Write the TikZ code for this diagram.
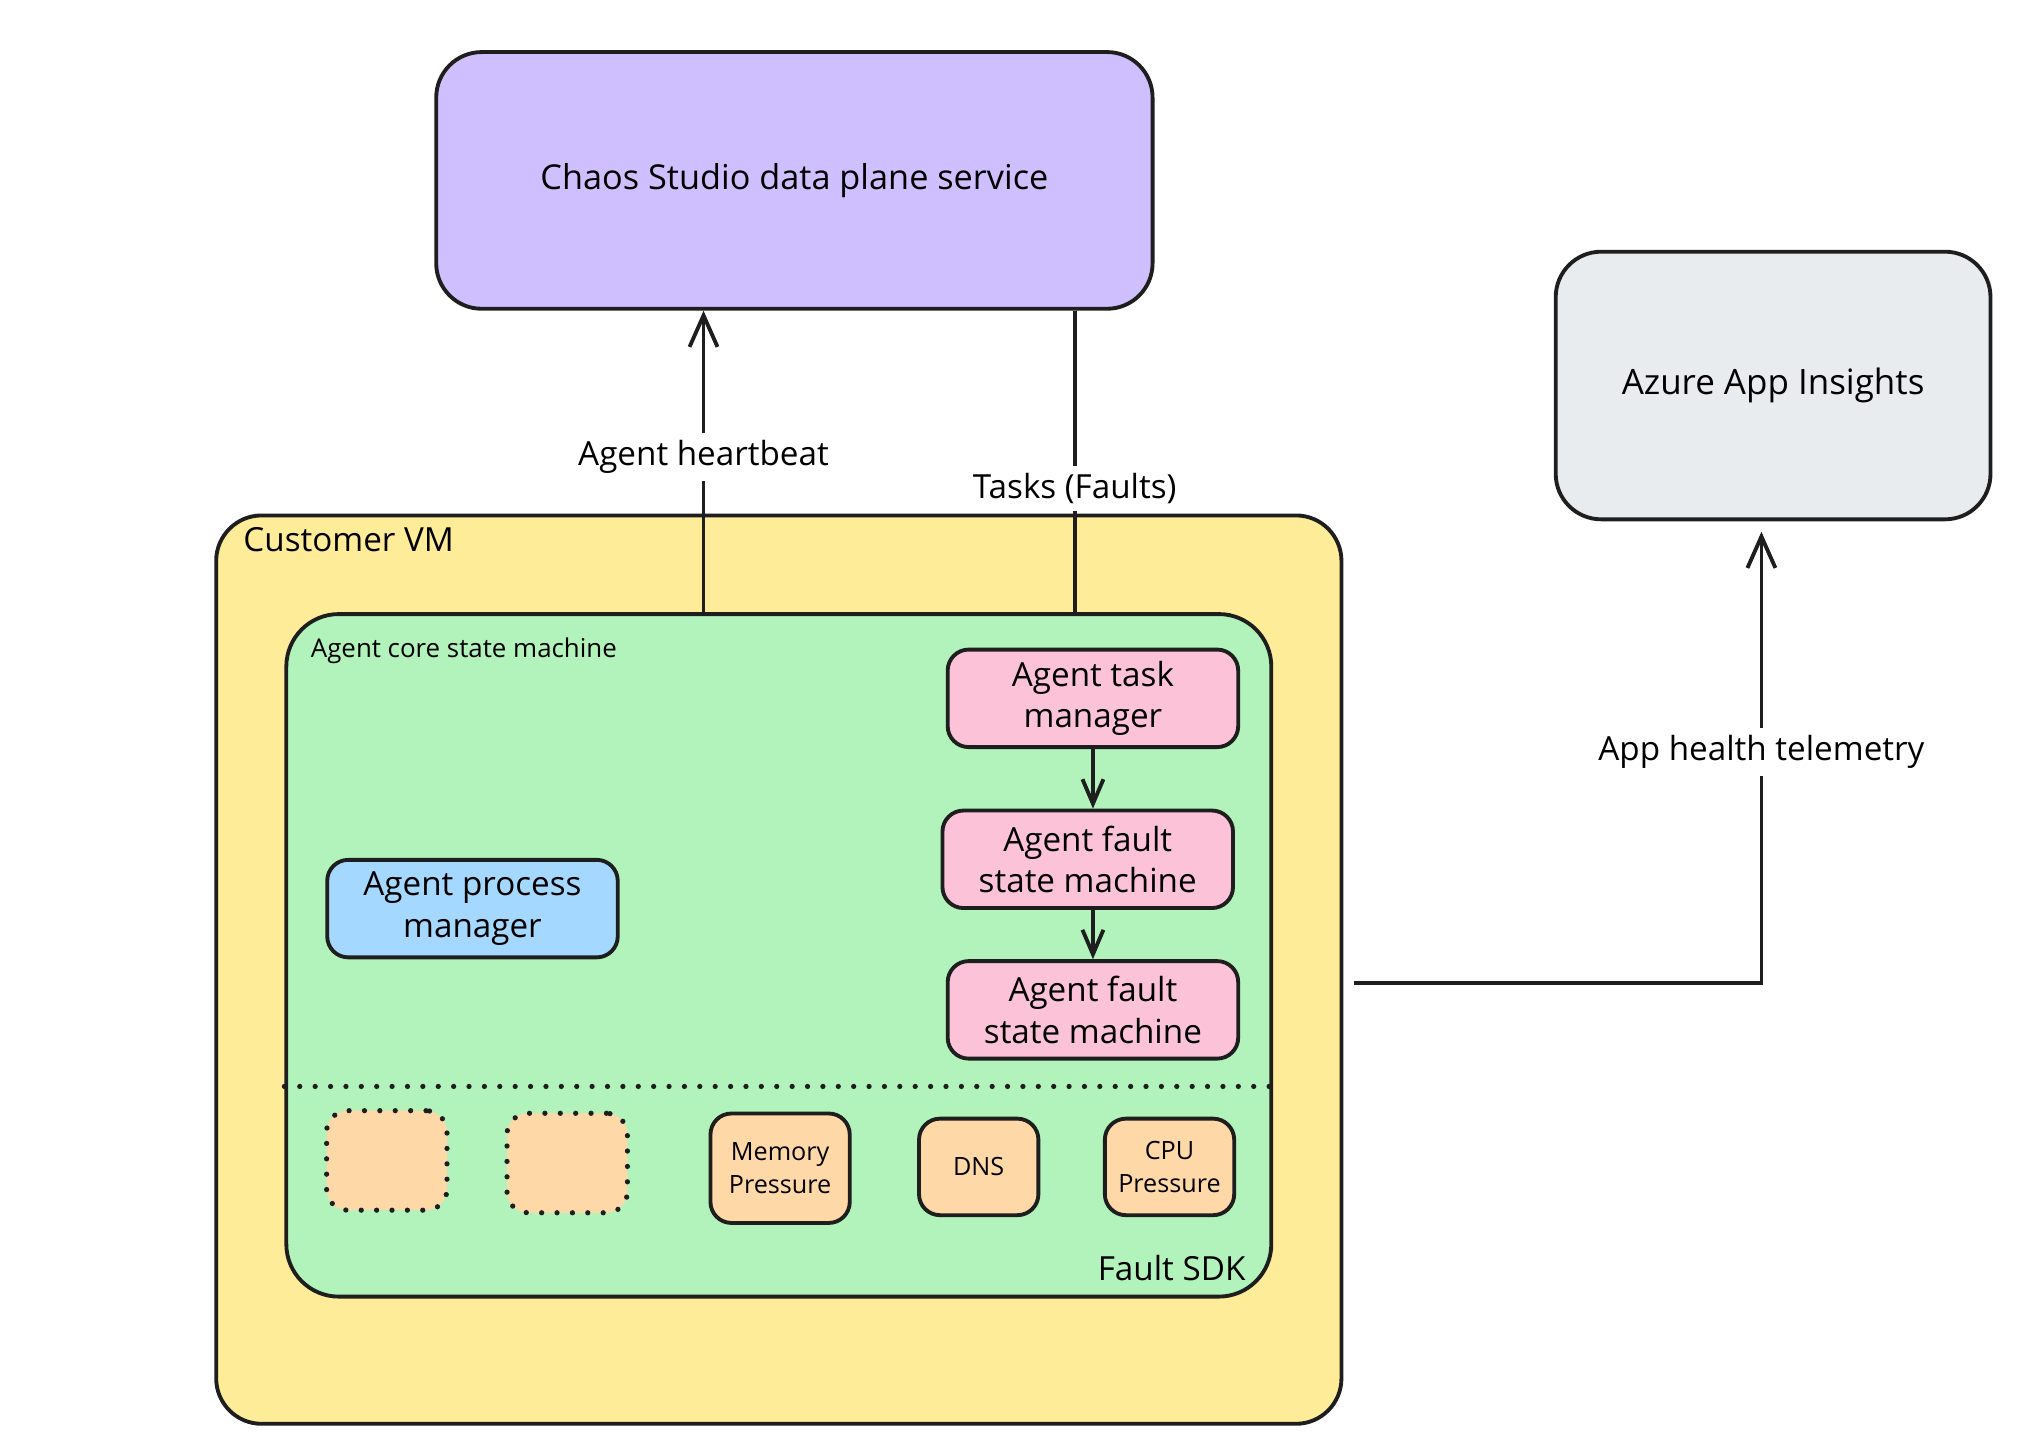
\documentclass[tikz,border=0pt]{standalone}
\usepackage{fontspec}
\setmainfont{Open Sans}
\usetikzlibrary{arrows.meta, positioning}

\definecolor{ink}{HTML}{1E1E1E}
\definecolor{violetfill}{HTML}{D0BFFF}
\definecolor{greyfill}{HTML}{E9ECEF}
\definecolor{yellowfill}{HTML}{FFEC99}
\definecolor{greenfill}{HTML}{B2F2BB}
\definecolor{pinkfill}{HTML}{FCC2D7}
\definecolor{bluefill}{HTML}{A5D8FF}
\definecolor{orangefill}{HTML}{FFD8A8}

\tikzset{
  box/.style={draw=ink, line width=1.1pt, rounded corners=6pt, align=center, inner sep=0pt},
  bigbox/.style={box, rounded corners=13pt},
  statebox/.style={box, fill=pinkfill, minimum width=2.92cm, minimum height=0.98cm, font=\fontsize{9.5}{11.9}\selectfont},
  faultbox/.style={box, fill=orangefill, minimum height=0.97cm, font=\fontsize{7.2}{9.3}\selectfont},
  emptybox/.style={faultbox, line width=1.5pt, dash pattern=on 0pt off 4.4pt, line cap=round, minimum width=1.21cm, minimum height=1cm},
  flow/.style={draw=ink, line width=1.1pt, -{Straight Barb[length=9pt,width=8pt]}},
  edgelabel/.style={fill=white, inner sep=2pt, font=\fontsize{9.5}{11}\selectfont},
  boxlabel/.style={inner sep=0pt, font=\fontsize{9.5}{11}\selectfont},
}

\begin{document}
\begin{tikzpicture}[x=0.01304cm, y=-0.01304cm]
        \useasboundingbox (0,0) rectangle (1567,1115);

        % outside services
        \node[bigbox, fill=violetfill, minimum width=7.20cm, minimum height=2.58cm, font=\fontsize{9.8}{11}\selectfont] at (612, 139) (chaos) {Chaos Studio data plane service};
        \node[bigbox, fill=greyfill, minimum width=4.37cm, minimum height=2.69cm, font=\fontsize{10}{11}\selectfont] at (1366, 297) (azure) {Azure App Insights};

        % customer vm and agent
        \node[bigbox, fill=yellowfill, minimum width=11.31cm, minimum height=9.13cm] at (600, 747) (vm) {};
        \node[boxlabel, anchor=west] at (187, 416) (vmlabel) {Customer VM};
        \node[bigbox, rounded corners=15pt, fill=greenfill, minimum width=9.90cm, minimum height=6.86cm] at (600, 736) (core) {};
        \node[boxlabel, anchor=west, font=\fontsize{7.4}{9}\selectfont] at (239, 501) (corelabel) {Agent core state machine};
        \node[boxlabel, anchor=east] at (960, 977) (sdklabel) {Fault SDK};

        \node[statebox] at (842, 538) (task) {Agent task\\manager};
        \node[statebox] at (838, 662) (faultA) {Agent fault\\state machine};
        \node[statebox] at (842, 778) (faultB) {Agent fault\\state machine};
        \node[statebox, fill=bluefill] at (364, 700) (process) {Agent process\\manager};

        % fault sdk
        \coordinate (sdktop) at (0, 837);
        \draw[draw=ink, line width=1.5pt, dash pattern=on 0pt off 4.4pt, line cap=round] (core.west |- sdktop) -- (core.east |- sdktop);
        \node[emptybox] at (298, 894) (slotA) {};
        \node[emptybox] at (437, 896) (slotB) {};
        \node[faultbox, minimum width=1.40cm, minimum height=1.10cm] at (601, 900) (memory) {Memory\\Pressure};
        \node[faultbox, minimum width=1.20cm] at (754, 899) (dns) {DNS};
        \node[faultbox, minimum width=1.30cm] at (901, 899) (cpu) {CPU\\Pressure};

        % connectors
        \coordinate (beat) at (542, 0);
        \coordinate (tasks) at (828, 0);
        \coordinate (telem) at (1043, 757);
        \coordinate (health) at (1357, 0);
        \draw[flow] (core.north -| beat) -- node[edgelabel, pos=0.515] {Agent heartbeat} (chaos.south -| beat);
        \draw[draw=ink, line width=1.1pt] (chaos.south -| tasks) -- node[edgelabel, pos=0.59] {Tasks (Faults)} (core.north -| tasks);
        \draw[flow, -{Straight Barb[length=7pt,width=6pt]}] (task.south) -- (task.south |- faultA.north);
        \draw[flow, -{Straight Barb[length=7pt,width=6pt]}] (faultB.north |- faultA.south) -- (faultB.north);
        \draw[flow, shorten >=3pt] (telem) -| node[edgelabel, pos=0.75] {App health telemetry} (azure.south -| health);
\end{tikzpicture}
\end{document}
